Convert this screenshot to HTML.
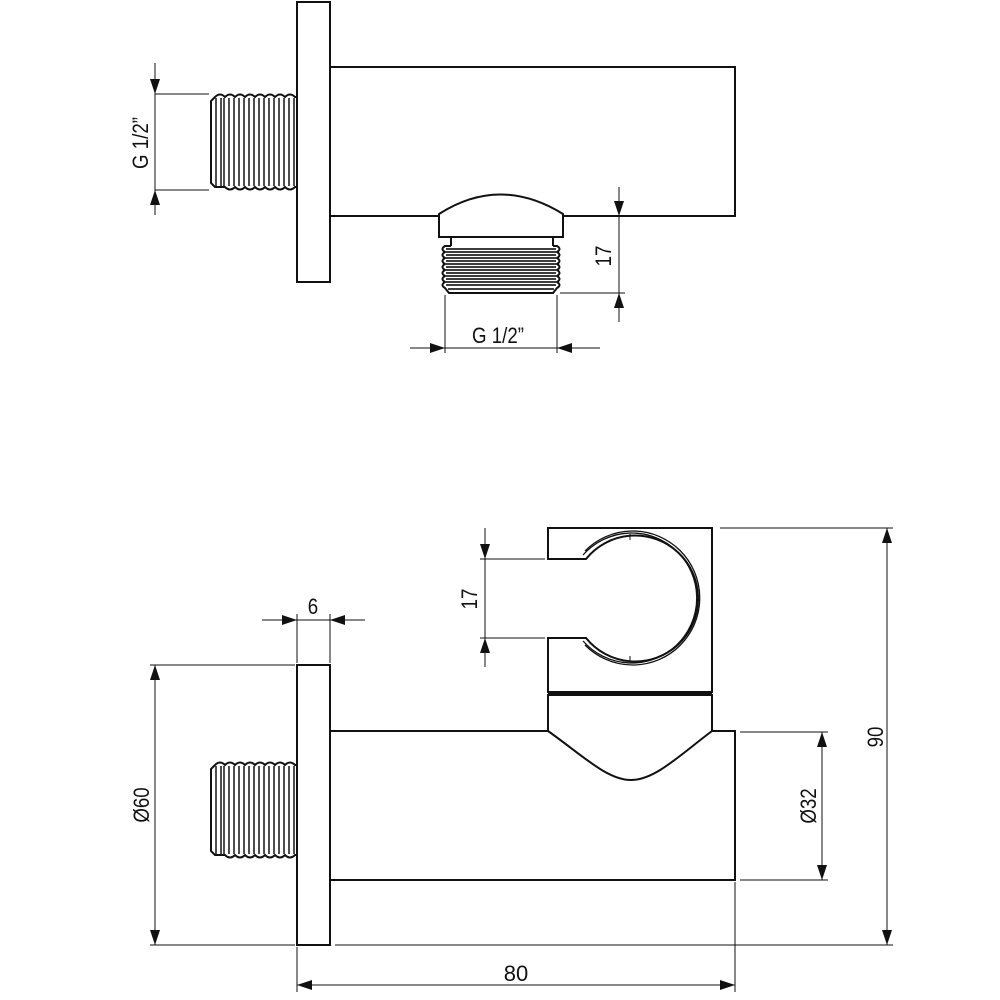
<!DOCTYPE html>
<html><head><meta charset="utf-8"><style>
html,body{margin:0;padding:0;background:#fff}
svg{display:block}
text{font-family:"Liberation Sans",sans-serif;font-size:22px;fill:#111}
</style></head><body>
<svg width="1000" height="1000" viewBox="0 0 1000 1000" xmlns="http://www.w3.org/2000/svg">
<defs>
<g id="hth">
<path d="M88,3 L86,3 q-5,-5 -10,0 q-5,-5 -10,0 q-5,-5 -10,0 q-5,-5 -10,0 q-5,-5 -10,0 q-5,-5 -10,0 q-5,-5 -10,0 q-5,-5 -10,0 L6,3 L2,7 L2,89 L6,93 L16,93 q5,5 10,0 q5,5 10,0 q5,5 10,0 q5,5 10,0 q5,5 10,0 q5,5 10,0 q5,5 10,0 L88,93" fill="none" stroke="#111" stroke-width="2"/>
<path d="M7,4 V92 M12,4 V92 M15,4 V92 M20,4 V92 M25,4 V92 M30,4 V92 M35,4 V92 M40,4 V92 M45,4 V92 M50,4 V92 M55,4 V92 M60,4 V92 M65,4 V92 M70,4 V92 M75,4 V92 M80,4 V92 M85,4 V92" stroke="#222" stroke-width="1.6"/>
</g>
<path id="ar" d="M0,0 L-5,-15 L5,-15 Z" fill="#111"/>
</defs>
<g fill="none" stroke="#111" stroke-width="2">
<rect x="297" y="2" width="33" height="280"/>
<path d="M330,67 H735 V216 H563 M439,216 H330"/>
<path d="M439,214 Q500,175 563,214 V237 H439 Z"/>
<path d="M451,237 V246 M553,237 V246"/>
</g>
<use href="#hth" transform="translate(209,94)"/>
<g fill="none" stroke="#111" stroke-width="2">
<path d="M451,246 H445 q-5,3 0,6 q-5,3 0,6 q-5,3 0,6 q-5,3 0,6 q-5,3 0,6 q-5,3 0,6 q-5,3 0,6 L449,293 H553 L557,288 q5,-3 0,-6 q5,-3 0,-6 q5,-3 0,-6 q5,-3 0,-6 q5,-3 0,-6 q5,-3 0,-6 q5,-3 0,-6 H553"/>
</g>
<path d="M446,249 H556 M446,252 H556 M446,255 H556 M446,258 H556 M446,261 H556 M446,264 H556 M446,267 H556 M446,270 H556 M446,273 H556 M446,276 H556 M446,279 H556 M446,282 H556 M446,285 H556 M448,289 H554" stroke="#222" stroke-width="1.7"/>
<g stroke="#111" stroke-width="1" fill="none">
<path d="M155,63 V215 M155,94 H209 M155,190 H209"/>
<path d="M619,187 V322 M563,216 H625 M560,293 H625"/>
<path d="M410,348 H600 M445,295 V353 M557,295 V353"/>
</g>
<use href="#ar" transform="translate(155,94)"/>
<use href="#ar" transform="translate(155,190) rotate(180)"/>
<use href="#ar" transform="translate(619,216)"/>
<use href="#ar" transform="translate(619,293) rotate(180)"/>
<use href="#ar" transform="translate(445,348) rotate(-90)"/>
<use href="#ar" transform="translate(557,348) rotate(90)"/>
<text transform="translate(148,143) rotate(-90) scale(0.85,1)" text-anchor="middle">G 1/2”</text>
<text transform="translate(611,256) rotate(-90) scale(0.85,1)" text-anchor="middle">17</text>
<text transform="translate(498,343) scale(0.85,1)" text-anchor="middle">G 1/2”</text>

<g fill="none" stroke="#111" stroke-width="2">
<rect x="297" y="665" width="33" height="280"/>
<path d="M330,731 H548 M712,731 H735 V880 H330"/>
<path d="M548,528 H712 V692 H548 V638 H586 A63,63 0 1 0 586,559 H548 Z"/>
<path d="M548,731 V695 H712 V731 C680,755 655,780 631,780 C607,780 582,755 548,731"/>
</g>
<path d="M583,555 A65,65 0 1 1 583,641" fill="none" stroke="#111" stroke-width="1.3"/>
<path d="M585,551 A67,67 0 1 1 585,645" fill="none" stroke="#111" stroke-width="1.3"/>
<path d="M548,693.5 H712 M630,534 V540 M630,656 V662 M594,692 V695 M630,692 V695 M676,692 V695" stroke="#111" stroke-width="1"/>
<use href="#hth" transform="translate(209,762)"/>
<g stroke="#111" stroke-width="1" fill="none">
<path d="M485,528 V667 M480,559 H545 M480,638 H545"/>
<path d="M262,620 H365 M297,614 V663 M330,614 V663"/>
<path d="M155,665 V945 M150,665 H295 M150,945 H295"/>
<path d="M822,732 V880 M740,732 H828 M740,880 H828"/>
<path d="M887,528 V945 M720,528 H893 M335,945 H893"/>
<path d="M297,985 H735 M297,947 V992 M735,882 V992"/>
</g>
<use href="#ar" transform="translate(485,559)"/>
<use href="#ar" transform="translate(485,638) rotate(180)"/>
<use href="#ar" transform="translate(297,620) rotate(-90)"/>
<use href="#ar" transform="translate(330,620) rotate(90)"/>
<use href="#ar" transform="translate(155,665) rotate(180)"/>
<use href="#ar" transform="translate(155,945)"/>
<use href="#ar" transform="translate(822,732) rotate(180)"/>
<use href="#ar" transform="translate(822,880)"/>
<use href="#ar" transform="translate(887,528) rotate(180)"/>
<use href="#ar" transform="translate(887,945)"/>
<use href="#ar" transform="translate(297,985) rotate(90)"/>
<use href="#ar" transform="translate(735,985) rotate(-90)"/>
<text transform="translate(477,599) rotate(-90) scale(0.85,1)" text-anchor="middle">17</text>
<text transform="translate(313,614) scale(0.85,1)" text-anchor="middle">6</text>
<text transform="translate(149,805) rotate(-90) scale(0.85,1)" text-anchor="middle">Ø60</text>
<text transform="translate(816,806) rotate(-90) scale(0.85,1)" text-anchor="middle">Ø32</text>
<text transform="translate(883,737) rotate(-90) scale(0.85,1)" text-anchor="middle">90</text>
<text x="516" y="981" text-anchor="middle">80</text>
</svg>
</body></html>
